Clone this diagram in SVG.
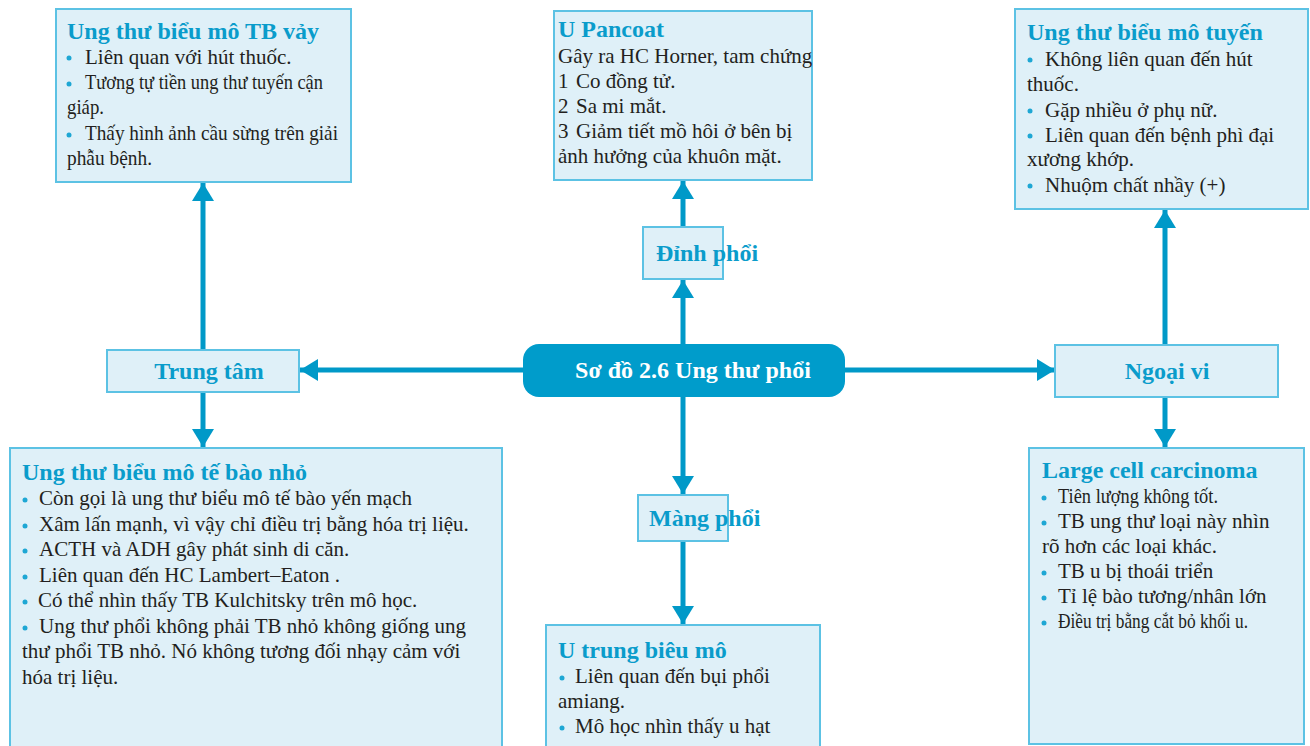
<svg xmlns="http://www.w3.org/2000/svg" width="1310" height="746" viewBox="0 0 1310 746">
  <style>
    .box { fill: #dff0f8; stroke: #5cc2e4; stroke-width: 2; }
    .title { font-family: "Liberation Serif", serif; font-weight: bold; font-size: 24px; fill: #0a9ccb; }
    .label { font-family: "Liberation Serif", serif; font-weight: bold; font-size: 24px; fill: #0a9ccb; }
    .body { font-family: "Liberation Serif", serif; font-size: 21px; fill: #231f20; }
    .dot { fill: #1ea7d4; }
    .conn { stroke: #0099c8; stroke-width: 5; fill: none; marker-end: url(#head); }
    .hub { fill: #009ccb; }
    .hubtext { font-family: "Liberation Serif", serif; font-weight: bold; font-size: 24px; fill: #ffffff; }
  </style>
  <defs>
    <marker id="head" markerUnits="userSpaceOnUse" markerWidth="20" markerHeight="22" refX="18" refY="11" orient="auto">
      <path d="M0,0 L18,11 L0,22 Z" fill="#0099c8"/>
    </marker>
  </defs>

  <rect width="1310" height="746" fill="#ffffff"/>

  <!-- connectors -->
  <g id="connectors">
    <path class="conn" d="M524,370 H300"/>
    <path class="conn" d="M203,350 V183"/>
    <path class="conn" d="M203,392 V447"/>
    <path class="conn" d="M683,344 V280"/>
    <path class="conn" d="M683,227 V181"/>
    <path class="conn" d="M683,397 V494"/>
    <path class="conn" d="M683,541 V624"/>
    <path class="conn" d="M845,370 H1055"/>
    <path class="conn" d="M1165,345 V210"/>
    <path class="conn" d="M1165,397 V447"/>
  </g>

  <!-- central hub -->
  <g id="hub">
    <rect class="hub" x="523" y="344" width="322" height="53" rx="16"/>
    <text class="hubtext" x="693" y="378" text-anchor="middle">Sơ đồ 2.6 Ung thư phổi</text>
  </g>

  <!-- branch labels -->
  <g id="trung-tam">
    <rect class="box" x="107" y="350" width="192" height="42"/>
    <text class="label" x="209" y="379" text-anchor="middle">Trung tâm</text>
  </g>
  <g id="dinh-phoi">
    <rect class="box" x="643" y="227" width="80" height="52"/>
    <text class="label" x="656" y="261">Đỉnh phổi</text>
  </g>
  <g id="mang-phoi">
    <rect class="box" x="638" y="495" width="90" height="46"/>
    <text class="label" x="649" y="526">Màng phổi</text>
  </g>
  <g id="ngoai-vi">
    <rect class="box" x="1055" y="345" width="223" height="52"/>
    <text class="label" x="1167" y="379" text-anchor="middle">Ngoại vi</text>
  </g>

  <!-- squamous cell carcinoma -->
  <g id="tb-vay">
    <rect class="box" x="56" y="9" width="295" height="173"/>
    <text class="title" x="67" y="39">Ung thư biểu mô TB vảy</text>
    <circle class="dot" cx="69" cy="58" r="2.5"/>
    <text class="body" x="85" y="64">Liên quan với hút thuốc.</text>
    <circle class="dot" cx="69" cy="84" r="2.5"/>
    <text class="body" x="85" y="89" textLength="238" lengthAdjust="spacingAndGlyphs">Tương tự tiền ung thư tuyến cận</text>
    <text class="body" x="67" y="114" textLength="37" lengthAdjust="spacingAndGlyphs">giáp.</text>
    <circle class="dot" cx="69" cy="135" r="2.5"/>
    <text class="body" x="85" y="140" textLength="253" lengthAdjust="spacingAndGlyphs">Thấy hình ảnh cầu sừng trên giải</text>
    <text class="body" x="67" y="165" textLength="85" lengthAdjust="spacingAndGlyphs">phẫu bệnh.</text>
  </g>

  <!-- Pancoat tumour -->
  <g id="pancoat">
    <rect class="box" x="554" y="11" width="258" height="169"/>
    <text class="title" x="558" y="37">U Pancoat</text>
    <text class="body" x="558" y="63">Gây ra HC Horner, tam chứng</text>
    <text class="body" x="558" y="88">1<tspan x="576">Co đồng tử.</tspan></text>
    <text class="body" x="558" y="113">2<tspan x="576">Sa mi mắt.</tspan></text>
    <text class="body" x="558" y="138">3<tspan x="576">Giảm tiết mồ hôi ở bên bị</tspan></text>
    <text class="body" x="558" y="163">ảnh hưởng của khuôn mặt.</text>
  </g>

  <!-- adenocarcinoma -->
  <g id="tuyen">
    <rect class="box" x="1015" y="9" width="293" height="200"/>
    <text class="title" x="1027" y="40">Ung thư biểu mô tuyến</text>
    <circle class="dot" cx="1030" cy="60" r="2.5"/>
    <text class="body" x="1045" y="66">Không liên quan đến hút</text>
    <text class="body" x="1027" y="91">thuốc.</text>
    <circle class="dot" cx="1030" cy="111" r="2.5"/>
    <text class="body" x="1045" y="117">Gặp nhiều ở phụ nữ.</text>
    <circle class="dot" cx="1030" cy="136" r="2.5"/>
    <text class="body" x="1045" y="142">Liên quan đến bệnh phì đại</text>
    <text class="body" x="1027" y="166">xương khớp.</text>
    <circle class="dot" cx="1030" cy="186" r="2.5"/>
    <text class="body" x="1045" y="192">Nhuộm chất nhầy (+)</text>
  </g>

  <!-- small cell carcinoma -->
  <g id="te-bao-nho">
    <rect class="box" x="10" y="448" width="492" height="310"/>
    <text class="title" x="22" y="480">Ung thư biểu mô tế bào nhỏ</text>
    <circle class="dot" cx="25" cy="500" r="2.5"/>
    <text class="body" x="39" y="505">Còn gọi là ung thư biểu mô tế bào yến mạch</text>
    <circle class="dot" cx="25" cy="526" r="2.5"/>
    <text class="body" x="39" y="531">Xâm lấn mạnh, vì vậy chỉ điều trị bằng hóa trị liệu.</text>
    <circle class="dot" cx="25" cy="551" r="2.5"/>
    <text class="body" x="39" y="556">ACTH và ADH gây phát sinh di căn.</text>
    <circle class="dot" cx="25" cy="577" r="2.5"/>
    <text class="body" x="39" y="582">Liên quan đến HC Lambert–Eaton .</text>
    <circle class="dot" cx="25" cy="602" r="2.5"/>
    <text class="body" x="38" y="607">Có thể nhìn thấy TB Kulchitsky trên mô học.</text>
    <circle class="dot" cx="25" cy="628" r="2.5"/>
    <text class="body" x="39" y="633">Ung thư phổi không phải TB nhỏ không giống ung</text>
    <text class="body" x="22" y="658">thư phổi TB nhỏ. Nó không tương đối nhạy cảm với</text>
    <text class="body" x="22" y="684">hóa trị liệu.</text>
  </g>

  <!-- mesothelioma -->
  <g id="trung-bieu-mo">
    <rect class="box" x="546" y="625" width="274" height="130"/>
    <text class="title" x="558" y="658">U trung biêu mô</text>
    <circle class="dot" cx="562" cy="678" r="2.5"/>
    <text class="body" x="575" y="683">Liên quan đến bụi phổi</text>
    <text class="body" x="558" y="708">amiang.</text>
    <circle class="dot" cx="562" cy="728" r="2.5"/>
    <text class="body" x="575" y="733">Mô học nhìn thấy u hạt</text>
  </g>

  <!-- large cell carcinoma -->
  <g id="large-cell">
    <rect class="box" x="1029" y="448" width="275" height="296"/>
    <text class="title" x="1042" y="478">Large cell carcinoma</text>
    <circle class="dot" cx="1044" cy="498" r="2.5"/>
    <text class="body" x="1058" y="503" textLength="160" lengthAdjust="spacingAndGlyphs">Tiên lượng không tốt.</text>
    <circle class="dot" cx="1044" cy="523" r="2.5"/>
    <text class="body" x="1058" y="528">TB ung thư loại này nhìn</text>
    <text class="body" x="1042" y="553">rõ hơn các loại khác.</text>
    <circle class="dot" cx="1044" cy="573" r="2.5"/>
    <text class="body" x="1058" y="578">TB u bị thoái triển</text>
    <circle class="dot" cx="1044" cy="598" r="2.5"/>
    <text class="body" x="1058" y="603">Tỉ lệ bào tương/nhân lớn</text>
    <circle class="dot" cx="1044" cy="623" r="2.5"/>
    <text class="body" x="1058" y="628" textLength="190" lengthAdjust="spacingAndGlyphs">Điều trị bằng cắt bỏ khối u.</text>
  </g>
</svg>
